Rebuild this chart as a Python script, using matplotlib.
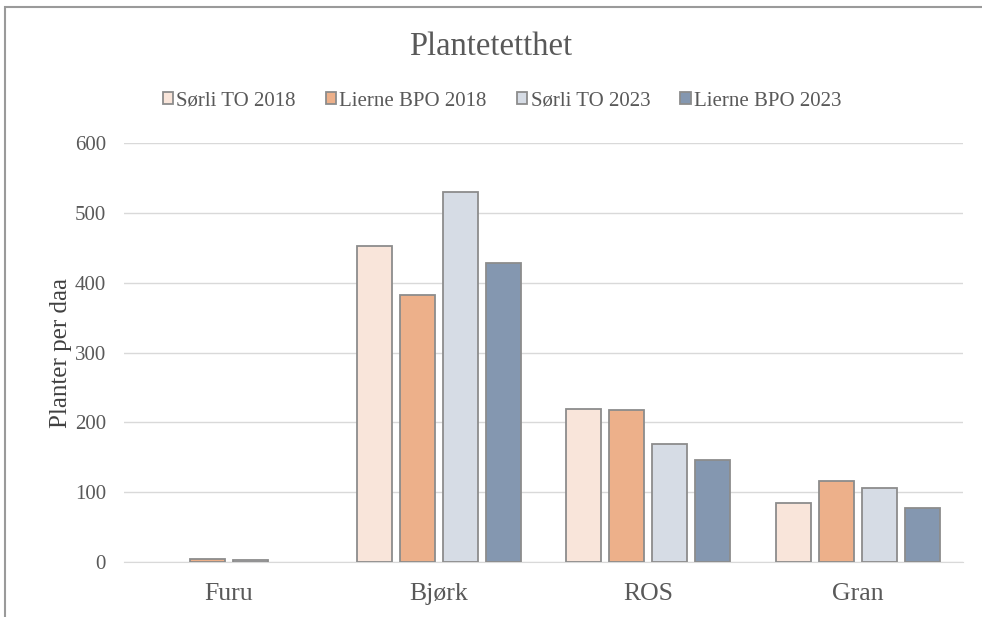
import numpy as np
import matplotlib.pyplot as plt
from matplotlib.patches import Rectangle

# Data
categories = ["Furu", "Bjørk", "ROS", "Gran"]
series_names = ["Sørli TO 2018", "Lierne BPO 2018", "Sørli TO 2023", "Lierne BPO 2023"]
sorli_2018 = [0, 453, 219, 84]
lierne_2018 = [4, 383, 217, 116]
sorli_2023 = [3, 530, 169, 106]
lierne_2023 = [0, 428, 146, 77]
colors = ["#F9E5DA", "#EDB08A", "#D6DCE5", "#8497B0"]

plt.rcParams["font.family"] = ["Liberation Serif", "DejaVu Serif"]

fig = plt.figure(figsize=(9.82, 6.17), dpi=100)
ax = fig.add_axes([124 / 982, 1 - 562 / 617, 839 / 982, 419 / 617])

x = np.arange(len(categories))
width = 0.167
step = 0.205
for i, (name, vals) in enumerate(zip(series_names, [sorli_2018, lierne_2018, sorli_2023, lierne_2023])):
    vals = np.array(vals, dtype=float)
    # zero values draw nothing in the original
    shown = np.where(vals > 0, vals, np.nan)
    ax.bar(x + (i - 1.5) * step, shown, width, color=colors[i], edgecolor="#8C8C8C",
           linewidth=1.3, label=name, zorder=3)

ax.set_ylim(0, 600)
ax.set_xlim(-0.5, 3.5)
ax.set_yticks(range(0, 601, 100))
ax.set_xticks(x)
ax.set_xticklabels(categories)
ax.yaxis.grid(True, color="#D9D9D9", linewidth=1.0, zorder=0)
for s in ["top", "right", "left"]:
    ax.spines[s].set_visible(False)
ax.spines["bottom"].set_color("#D9D9D9")
ax.tick_params(axis="both", length=0, colors="#595959")
ax.tick_params(axis="x", pad=15, labelsize=18.5)
ax.tick_params(axis="y", pad=13, labelsize=15)
ax.set_ylabel("Planter per daa", fontsize=18, color="#404040", labelpad=2)

fig.text(0.5, 1 - 47 / 617, "Plantetetthet", ha="center", va="center", fontsize=23.5, color="#595959")
leg = fig.legend(loc="center", bbox_to_anchor=(502 / 982, 1 - 101 / 617), ncol=4, frameon=False,
                 fontsize=15, handlelength=0.5, handleheight=0.5, handletextpad=0.15,
                 columnspacing=1.45, labelcolor="#595959")

# screenshot frame
fig.patches.append(Rectangle((5 / 982, -0.05), 1.2, 1 - 7 / 617 + 0.05, transform=fig.transFigure,
                             fill=False, edgecolor="#9A9A9A", linewidth=1.5))

fig.savefig("out.png", dpi=100)
